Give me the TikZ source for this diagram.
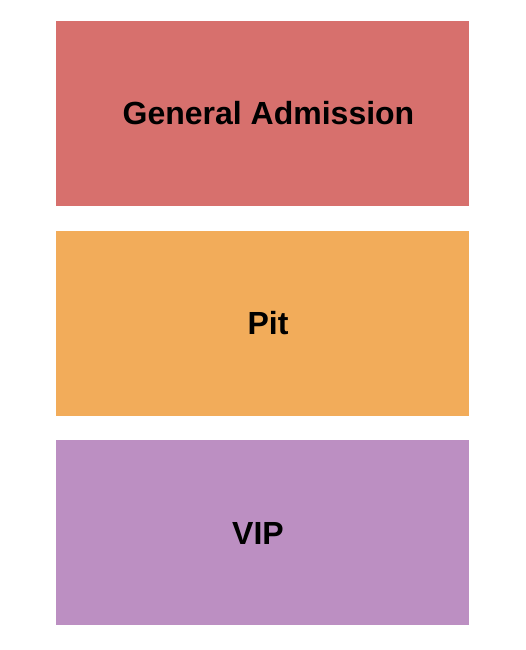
\documentclass[tikz,border=0pt]{standalone}
\usepackage{fontspec}
\setmainfont{Liberation Sans}
\definecolor{gacol}{HTML}{D7706D}
\definecolor{pitcol}{HTML}{F2AC5A}
\definecolor{vipcol}{HTML}{BC8FC2}
\tikzset{
  section/.style={draw=none, minimum width=413pt, minimum height=185pt, inner sep=0pt},
  sectionlabel/.style={inner sep=0pt, font=\fontsize{32}{38}\selectfont\bfseries, text=black}
}
\begin{document}
\begin{tikzpicture}[x=1pt,y=-1pt]
\useasboundingbox (0,0) rectangle (525,650);
\node[section, fill=gacol] (ga) at (262.5,113.5) {};
\node[section, fill=pitcol] (pit) at (262.5,323) {};
\node[section, fill=vipcol] (vip) at (262.5,532.5) {};
\node[sectionlabel] (galabel) at (268.5,113.5) {General Admission};
\node[sectionlabel] (pitlabel) at (268,323.5) {Pit};
\node[sectionlabel] (viplabel) at (258,533) {VIP};
\end{tikzpicture}
\end{document}
